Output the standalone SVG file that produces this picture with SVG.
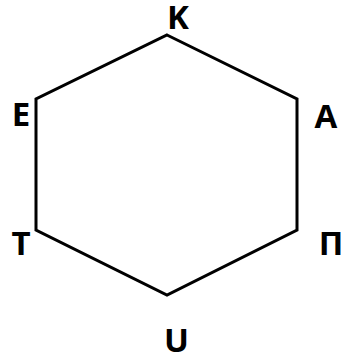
<svg xmlns="http://www.w3.org/2000/svg" width="343" height="360" viewBox="0 0 343 360">
<style>
.edge{fill:none;stroke:#000;stroke-width:3;stroke-linejoin:miter}
.lbl{font-family:"Open Sans","Liberation Sans",sans-serif;font-weight:bold;font-size:33px;fill:#000;text-anchor:middle}
</style>
<rect width="343" height="360" fill="#fff"/>
<g id="connectors">
<polygon class="edge" points="167,35 297,99 297,230 167,295 36,230 36,99"/>
</g>
<g id="node-K"><text class="lbl" x="178" y="29">K</text></g>
<g id="node-A"><text class="lbl" x="326" y="128">A</text></g>
<g id="node-P"><text class="lbl" x="331" y="255">Π</text></g>
<g id="node-U"><text class="lbl" x="176.5" y="352">U</text></g>
<g id="node-T"><text class="lbl" x="21" y="255">T</text></g>
<g id="node-E"><text class="lbl" x="21" y="126">E</text></g>
</svg>
